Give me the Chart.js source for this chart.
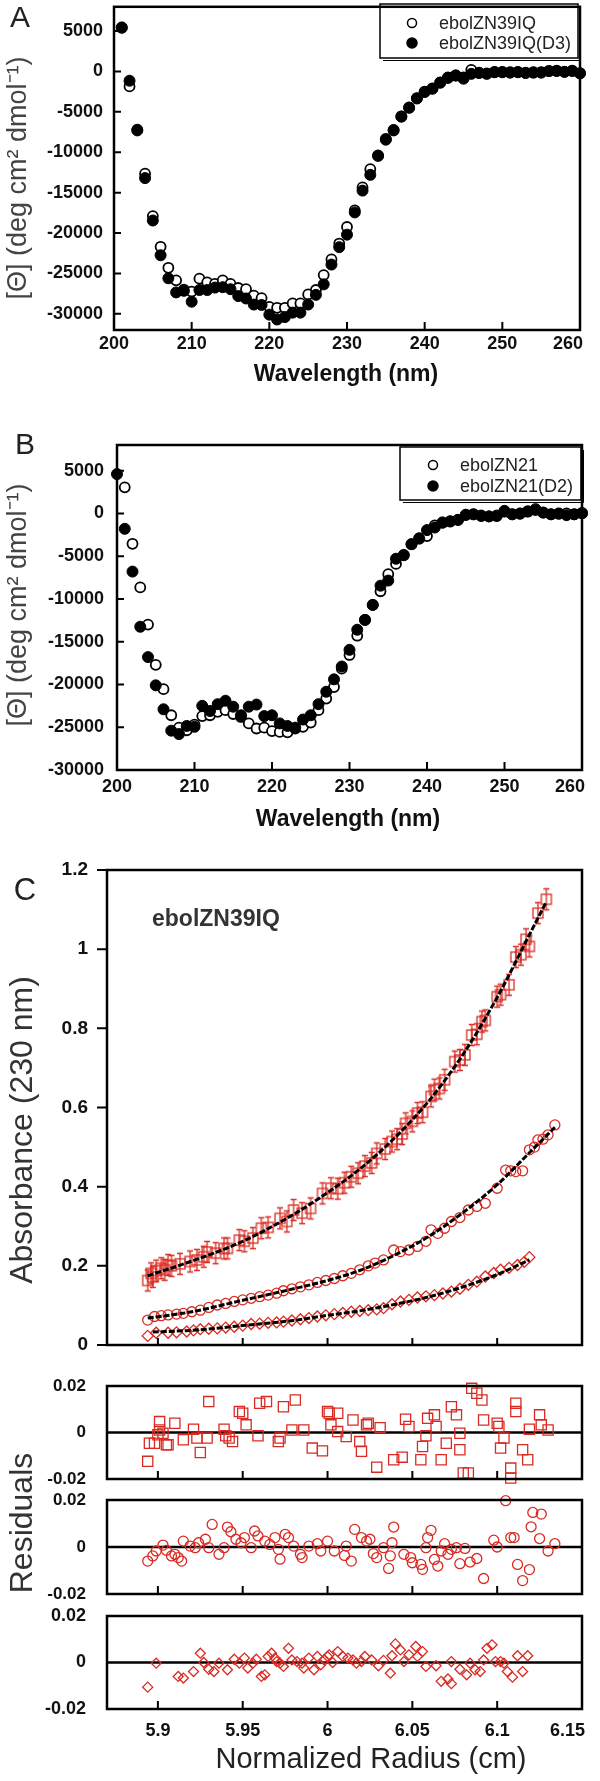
<!DOCTYPE html>
<html>
<head>
<meta charset="utf-8">
<script src="https://cdn.jsdelivr.net/npm/chart.js@4.4.0/dist/chart.umd.min.js"></script>
<style>
  body { margin: 0; background: #fff; }
  #page { position: relative; width: 600px; height: 1781px; overflow: hidden; font-family: "Liberation Sans", Arial, sans-serif; }
  canvas { position: absolute; left: 0; }
  .t { position: absolute; white-space: nowrap; line-height: 1; transform: translate(-50%, -50%); }
  .r { transform: translate(-50%, -50%) rotate(-90deg); }
</style>
</head>
<body>
<div id="page">
  <canvas id="cA" width="600" height="398" style="top:0px"></canvas>
  <canvas id="cB" width="600" height="432" style="top:398px"></canvas>
  <canvas id="cC" width="600" height="530" style="top:830px"></canvas>
  <canvas id="cR1" width="600" height="130" style="top:1360px"></canvas>
  <canvas id="cR2" width="600" height="115" style="top:1490px"></canvas>
  <canvas id="cR3" width="600" height="176" style="top:1605px"></canvas>

  <div class="t" style="left:20px;top:17px;font-size:30px;color:#222">A</div>
  <div class="t r" style="left:17px;top:178px;font-size:27px;color:#444">[Θ] (deg cm² dmol⁻¹)</div>
  <div class="t" style="left:346px;top:373px;font-size:23px;font-weight:bold;color:#111">Wavelength (nm)</div>

  <div class="t" style="left:25px;top:444px;font-size:30px;color:#222">B</div>
  <div class="t r" style="left:17px;top:605px;font-size:27px;color:#444">[Θ] (deg cm² dmol⁻¹)</div>
  <div class="t" style="left:348px;top:818px;font-size:23px;font-weight:bold;color:#111">Wavelength (nm)</div>

  <div class="t" style="left:25px;top:889px;font-size:31px;color:#222">C</div>
  <div class="t r" style="left:21px;top:1130px;font-size:32px;color:#333">Absorbance (230 nm)</div>
  <div class="t" style="left:152px;top:918px;font-size:23px;font-weight:bold;color:#333;transform:translate(0,-50%)">ebolZN39IQ</div>
  <div class="t r" style="left:21px;top:1523px;font-size:32px;color:#333">Residuals</div>
  <div class="t" style="left:371px;top:1758px;font-size:29px;color:#222">Normalized Radius (cm)</div>
</div>

<script>
// ---- panel A : CD spectra ebolZN39IQ ----
const waveA = [201,202,203,204,205,206,207,208,209,210,211,212,213,214,215,216,217,218,219,220,
  221,222,223,224,225,226,227,228,229,230,231,232,233,234,235,236,237,238,239,240,
  241,242,243,244,245,246,247,248,249,250,251,252,253,254,255,256,257,258,259,260];
const zn39 = [5400,-1850,-7200,-12650,-17900,-21700,-24300,-25850,-27000,-27250,-25650,-26100,-26300,-25850,-26300,-26800,-26950,-27750,-28050,-29150,
  -29250,-29250,-28700,-28700,-27600,-27050,-25200,-23250,-21300,-19250,-17200,-14350,-12100,-10400,-8350,-7250,-5550,-4450,-3300,-2500,
  -2100,-1350,-750,-500,-750,200,-150,-250,-50,-50,-100,-50,-150,-100,-100,50,100,-50,100,-200];
const zn39D3 = [5450,-1150,-7300,-13200,-18450,-22750,-25600,-27350,-27150,-28500,-27050,-27050,-26750,-26700,-26950,-27800,-28100,-28850,-28900,-30100,
  -30700,-30400,-29850,-29850,-28850,-27650,-26350,-23900,-21750,-20200,-17450,-14750,-12800,-10450,-8450,-7300,-5600,-4500,-3350,-2550,
  -2150,-1400,-800,-500,-900,-300,-200,-300,-100,-100,-150,-100,-200,-150,-150,50,50,-50,50,-250];

// ---- panel B : CD spectra ebolZN21 ----
const waveB = [200,201,202,203,204,205,206,207,208,209,210,211,212,213,214,215,216,217,218,219,220,
  221,222,223,224,225,226,227,228,229,230,231,232,233,234,235,236,237,238,239,240,
  241,242,243,244,245,246,247,248,249,250,251,252,253,254,255,256,257,258,259,260];
const zn21 = [null,3050,-3550,-8650,-13000,-17700,-20550,-23600,-25050,-25350,-24700,-23700,-23600,-23200,-23000,-23450,-23800,-24550,-25150,-25050,-25450,
  -25550,-25600,-25150,-24950,-24450,-23000,-21650,-20300,-18150,-16550,-14300,-12450,-10700,-9100,-7100,-5900,-4900,-3600,-2900,-2650,
  -1400,-1100,-900,-750,-200,-100,-300,-350,-300,200,-100,-50,200,400,100,-100,-50,0,-100,0];
const zn21D2 = [4600,-1800,-6800,-13250,-16800,-20100,-22900,-25400,-25800,-24850,-24950,-22500,-23100,-22300,-21900,-22600,-23600,-22600,-22350,-23700,-23600,
  -24550,-24850,-25050,-24100,-23600,-22300,-20850,-19400,-17900,-15950,-13600,-12450,-10700,-8450,-7850,-5300,-4850,-3600,-2950,-1950,
  -1650,-1050,-950,-750,-150,-100,-250,-350,-250,300,-100,0,250,500,100,-100,0,-200,-100,50];

const cdYTicks = [-30000,-25000,-20000,-15000,-10000,-5000,0,5000];
const cdXTicks = [200,210,220,230,240,250,260];

// ---- panel C : sedimentation equilibrium ----
const sqX = [5.894,5.896,5.897,5.899,5.902,5.904,5.906,5.908,5.913,5.919,5.923,5.927,5.929,5.934,5.939,5.941,5.948,5.951,5.956,5.961,5.965,
  5.972,5.976,5.980,5.985,5.990,5.997,6.002,6.006,6.010,6.014,6.018,6.022,6.026,6.029,6.034,6.038,6.041,6.044,6.046,6.050,
  6.053,6.056,6.061,6.063,6.066,6.069,6.075,6.078,6.081,6.085,6.088,6.091,6.093,6.100,6.102,6.107,6.111,6.114,6.117,6.119,6.124,6.129];
const sqY = [0.163,0.181,0.172,0.188,0.194,0.19,0.202,0.2,0.205,0.211,0.215,0.223,0.235,0.232,0.244,0.244,0.265,0.262,0.27,0.295,0.297,
  0.32,0.312,0.341,0.333,0.345,0.383,0.396,0.395,0.41,0.425,0.434,0.452,0.46,0.484,0.495,0.514,0.52,0.533,0.56,0.565,
  0.586,0.588,0.628,0.645,0.648,0.67,0.716,0.72,0.733,0.783,0.785,0.817,0.82,0.88,0.885,0.91,0.98,0.986,1.025,1.007,1.091,1.126];
const ciX = [5.894,5.898,5.902,5.906,5.911,5.915,5.920,5.925,5.930,5.935,5.940,5.945,5.950,5.955,5.960,5.965,5.970,5.974,5.979,5.984,5.989,
  5.994,5.999,6.004,6.009,6.014,6.019,6.024,6.028,6.033,6.039,6.043,6.048,6.053,6.058,6.061,6.065,6.069,6.073,6.078,6.083,
  6.088,6.093,6.100,6.105,6.108,6.111,6.115,6.119,6.122,6.124,6.127,6.130,6.134];
const ciY = [0.063,0.072,0.074,0.076,0.078,0.080,0.084,0.088,0.095,0.101,0.105,0.110,0.114,0.118,0.122,0.126,0.131,0.137,0.142,0.147,0.152,
  0.158,0.163,0.168,0.175,0.181,0.19,0.2,0.207,0.215,0.24,0.236,0.24,0.249,0.262,0.291,0.282,0.295,0.312,0.322,0.341,
  0.35,0.358,0.396,0.442,0.44,0.438,0.44,0.493,0.5,0.518,0.52,0.531,0.556];
const diX = [5.894,5.899,5.906,5.911,5.917,5.921,5.925,5.930,5.935,5.940,5.945,5.950,5.955,5.960,5.965,5.970,5.974,5.979,5.984,5.989,5.994,
  5.999,6.004,6.009,6.014,6.019,6.024,6.029,6.033,6.038,6.043,6.048,6.053,6.058,6.063,6.068,6.073,6.078,6.083,6.088,6.093,
  6.098,6.102,6.107,6.112,6.116,6.119];
const diY = [0.023,0.031,0.031,0.032,0.034,0.037,0.040,0.041,0.042,0.044,0.046,0.049,0.053,0.054,0.056,0.057,0.059,0.062,0.065,0.068,0.072,
  0.075,0.078,0.081,0.084,0.086,0.088,0.09,0.093,0.103,0.110,0.114,0.12,0.123,0.126,0.13,0.135,0.142,0.152,0.16,0.173,
  0.182,0.19,0.195,0.202,0.21,0.222];

// fitted curves
const fitSqX = [5.894,5.92,5.95,5.98,6.0,6.02,6.04,6.06,6.08,6.10,6.12,6.129];
const fitSqY = [0.175,0.212,0.262,0.330,0.385,0.448,0.525,0.618,0.735,0.878,1.045,1.12];
const fitCiX = [5.894,5.92,5.95,5.98,6.0,6.02,6.04,6.06,6.08,6.10,6.12,6.134];
const fitCiY = [0.068,0.084,0.113,0.142,0.163,0.19,0.228,0.275,0.335,0.405,0.49,0.55];
const fitDiX = [5.897,5.92,5.95,5.98,6.0,6.02,6.04,6.06,6.08,6.10,6.119];
const fitDiY = [0.033,0.037,0.049,0.062,0.075,0.087,0.103,0.122,0.147,0.178,0.215];

const absTicks = [0,0.2,0.4,0.6,0.8,1,1.2];
const radTicks = [5.9,5.95,6,6.05,6.1];
const radLabels = [5.9,5.95,6,6.05,6.1,6.15];
const resTicks = [-0.02,0,0.02];

// residuals
const rsqX = [5.894,5.895,5.898,5.901,5.901,5.900,5.903,5.905,5.906,5.910,5.915,5.921,5.925,5.923,5.929,5.930,5.939,5.940,5.944,5.942,
  5.948,5.950,5.952,5.959,5.960,5.964,5.971,5.972,5.974,5.981,5.979,5.986,5.991,5.997,6.000,6.001,6.006,6.002,6.006,6.011,
  6.015,6.019,6.020,6.023,6.024,6.031,6.029,6.039,6.044,6.046,6.048,6.055,6.056,6.058,6.059,6.063,6.064,6.067,6.070,6.073,
  6.076,6.078,6.078,6.080,6.083,6.085,6.088,6.091,6.092,6.100,6.101,6.102,6.104,6.108,6.108,6.111,6.111,6.115,6.118,6.119,
  6.125,6.126,6.130];
const rsqY = [-0.0124,-0.0046,-0.0046,0.0047,0.0011,-0.001,-0.0003,-0.0053,-0.0053,0.004,-0.0031,0.0014,-0.0086,-0.0024,-0.0024,0.0133,0.0014,-0.0014,-0.0039,-0.0024,
  0.009,0.0083,0.0033,-0.0014,0.0126,0.0133,-0.0039,-0.0024,0.0111,0.014,0.0011,0.0011,-0.0067,-0.0079,0.009,0.0083,0.0083,0.0033,0.0004,-0.0017,
  0.0054,-0.0039,-0.0081,0.0033,0.004,0.0021,-0.0149,-0.0117,-0.0106,0.0057,0.0026,-0.0117,-0.006,-0.0014,0.0061,0.0076,0.0026,-0.0117,-0.0046,0.0111,
  0.0076,-0.0074,-0.0003,-0.0174,-0.0174,0.019,0.0169,0.014,0.0054,0.004,0.0026,-0.0067,-0.0024,-0.0153,-0.0196,0.0126,0.009,-0.0074,-0.0117,0.0014,
  0.0076,0.0033,0.0011];
const rciX = [5.894,5.897,5.899,5.903,5.905,5.908,5.910,5.912,5.914,5.915,5.919,5.922,5.924,5.928,5.930,5.932,5.936,5.939,5.941,5.943,
  5.946,5.949,5.951,5.955,5.957,5.959,5.963,5.966,5.969,5.971,5.972,5.975,5.977,5.980,5.984,5.985,5.989,5.994,5.996,6.000,
  6.004,6.010,6.011,6.014,6.016,6.020,6.023,6.025,6.027,6.029,6.033,6.036,6.037,6.038,6.039,6.045,6.049,6.050,6.055,6.056,
  6.058,6.059,6.061,6.063,6.065,6.067,6.069,6.071,6.073,6.076,6.078,6.081,6.084,6.088,6.092,6.098,6.100,6.105,6.108,6.110,
  6.112,6.115,6.119,6.120,6.121,6.126,6.125,6.130,6.134];
const rciY = [-0.006,-0.0038,-0.0017,0.0008,-0.0014,-0.0038,-0.0031,-0.0045,-0.006,0.0025,0.0004,-0.0003,0.0018,0.0033,-0.0003,0.0096,-0.0031,-0.0003,0.0085,0.0065,
  0.0033,0.0018,0.004,-0.0003,0.0068,0.0047,0.0025,0.0011,0.004,-0.001,-0.0052,0.0054,0.004,0.0004,-0.0031,-0.0045,0.0004,0.0014,-0.0017,0.0025,
  -0.0017,-0.0036,0.0004,-0.006,0.0075,0.004,0.0025,0.0033,-0.0028,-0.0045,-0.0003,-0.0091,-0.0038,0.0018,0.0085,-0.0031,-0.0045,-0.0067,-0.0074,-0.0095,
  -0.0003,0.004,0.0071,-0.0053,-0.0081,-0.0017,0.0014,-0.0031,-0.001,-0.0003,-0.0071,-0.0006,-0.0064,-0.0049,-0.0134,0.0029,0,0.0197,0.004,0.004,
  -0.0074,-0.0143,-0.0096,0.0086,0.0147,0.014,0.0036,-0.0017,0.0014];
const rdiX = [5.894,5.899,5.912,5.915,5.921,5.925,5.927,5.930,5.933,5.936,5.941,5.945,5.948,5.951,5.953,5.956,5.958,5.961,5.963,5.965,
  5.967,5.969,5.970,5.972,5.974,5.977,5.979,5.982,5.985,5.986,5.989,5.992,5.994,5.996,5.998,6.000,6.001,6.003,6.006,6.009,
  6.012,6.015,6.017,6.020,6.022,6.026,6.030,6.033,6.037,6.038,6.040,6.043,6.045,6.048,6.052,6.053,6.056,6.058,6.064,6.067,
  6.071,6.073,6.073,6.078,6.082,6.084,6.087,6.090,6.092,6.094,6.097,6.099,6.102,6.104,6.106,6.109,6.112,6.115,6.118];
const rdiY = [-0.0106,-0.0003,-0.006,-0.0067,-0.0039,0.004,0,-0.0029,-0.0039,-0.0003,-0.0031,0.0014,-0.0003,0.0019,-0.0024,-0.0003,0.0014,-0.006,-0.0053,0.0026,
  0.004,0.0019,0.0004,-0.0003,-0.0017,0.0061,0.0011,0.0004,-0.0003,-0.0024,0.0019,-0.0031,0.0026,-0.001,0.0011,0.0026,0.0033,0,0.0047,0.0026,
  0.0019,0.0011,-0.0003,0.0004,0.0026,0.0011,-0.0014,0.0009,-0.0046,0.0029,0.008,0.0054,0.0004,0.0033,0.0069,0.0026,0.0047,-0.0017,-0.0014,-0.0081,
  -0.0071,-0.0091,0.0004,-0.0029,-0.0053,-0.0003,-0.0031,-0.0039,0.0011,0.0061,0.0076,0.0004,0.0004,-0.0003,-0.0039,-0.0063,0.0029,-0.0039,0.0029];

const RED = '#d92b23';
const FONT = '"Liberation Sans", Arial, sans-serif';

const pts = (xs, ys) => xs.map((v, i) => ({x: v, y: ys[i]})).filter(p => p.y !== null);

// square marker with its vertical error bar
const errSquare = () => {
  const c = document.createElement('canvas');
  c.width = 24; c.height = 28;
  const g = c.getContext('2d');
  g.strokeStyle = RED; g.lineWidth = 1.3;
  g.strokeRect(7, 9, 10, 10);
  g.beginPath();
  g.moveTo(12, 3); g.lineTo(12, 25);
  g.moveTo(9, 3.5); g.lineTo(15, 3.5);
  g.moveTo(9, 24.5); g.lineTo(15, 24.5);
  g.stroke();
  return c;
};

// frame, ticks, tick labels, zero line and legend box
const decor = {
  id: 'decor',
  beforeDatasetsDraw(chart, args, o) {
    if (!o.zero) return;
    const {ctx, chartArea: a} = chart;
    const py = chart.scales.y.getPixelForValue(0);
    ctx.save();
    ctx.strokeStyle = '#000'; ctx.lineWidth = 2.5;
    ctx.beginPath(); ctx.moveTo(a.left, py); ctx.lineTo(a.right, py); ctx.stroke();
    ctx.restore();
  },
  afterDatasetsDraw(chart, args, o) {
    const {ctx, chartArea: a, scales: {x, y}} = chart;
    ctx.save();
    ctx.strokeStyle = '#000'; ctx.lineWidth = 2.5;
    ctx.strokeRect(a.left, a.top, a.right - a.left, a.bottom - a.top);
    ctx.lineWidth = 2;
    ctx.beginPath();
    (o.xTicks || []).forEach(v => {
      const px = x.getPixelForValue(v);
      ctx.moveTo(px, a.bottom); ctx.lineTo(px, a.bottom - o.xTickLen);
    });
    (o.yTicks || []).forEach(v => {
      const py = y.getPixelForValue(v);
      ctx.moveTo(a.left, py); ctx.lineTo(a.left + o.yTickLen, py);
    });
    ctx.stroke();

    ctx.fillStyle = '#111';
    ctx.font = 'bold ' + o.fontSize + 'px ' + FONT;
    ctx.textBaseline = 'middle';
    ctx.textAlign = 'right';
    (o.yLabels || []).forEach(v => ctx.fillText(String(v), o.yLabelRight, y.getPixelForValue(v)));
    (o.xLabels || []).forEach(v => {
      const s = String(v);
      const w = ctx.measureText(s).width;
      let px = x.getPixelForValue(v) + w / 2;
      if (px > a.right + 3) px = a.right + 3;
      ctx.fillText(s, px, a.bottom + o.xLabelGap);
    });

    if (o.legend) {
      const L = o.legend;
      ctx.lineWidth = 1.5;
      ctx.strokeRect(L.box[0], L.box[1], L.box[2] - L.box[0], L.box[3] - L.box[1]);
      ctx.lineWidth = 1;
      ctx.beginPath();
      ctx.moveTo(L.box[2] + 2.5, L.box[1] + 3); ctx.lineTo(L.box[2] + 2.5, L.box[3] + 2.5); ctx.lineTo(L.box[0] + 3, L.box[3] + 2.5);
      ctx.stroke();
      ctx.font = '18px ' + FONT;
      ctx.textAlign = 'left';
      chart.data.datasets.forEach((d, i) => {
        const ly = L.rows[i];
        ctx.beginPath();
        ctx.arc(L.markX, ly, d.pointRadius - 0.5, 0, Math.PI * 2);
        ctx.fillStyle = d.backgroundColor; ctx.fill();
        ctx.strokeStyle = '#000'; ctx.lineWidth = 1.5; ctx.stroke();
        ctx.fillStyle = '#222';
        ctx.fillText(d.label, L.textX, ly + 1);
      });
    }
    ctx.restore();
  }
};

const panel = (id, datasets, pad, xr, yr, deco) => new Chart(document.getElementById(id), {
  type: 'scatter',
  data: {datasets},
  options: {
    responsive: false,
    animation: false,
    events: [],
    layout: {padding: pad},
    plugins: {legend: {display: false}, tooltip: {enabled: false}, decor: deco},
    scales: {
      x: {type: 'linear', display: false, min: xr[0], max: xr[1]},
      y: {type: 'linear', display: false, min: yr[0], max: yr[1]}
    }
  },
  plugins: [decor]
});

const openSet = (label, data) => ({label, data, pointRadius: 5, backgroundColor: '#fff', borderColor: '#000', borderWidth: 1.8, clip: false, order: 2});
const fillSet = (label, data) => ({label, data, pointRadius: 5.5, backgroundColor: '#000', borderColor: '#000', borderWidth: 1, clip: false, order: 1});

// A
panel('cA', [
  openSet('ebolZN39IQ', pts(waveA, zn39)),
  fillSet('ebolZN39IQ(D3)', pts(waveA, zn39D3))
], {left: 114, top: 3, right: 20, bottom: 68}, [200, 260], [-32000, 8000], {
  xTicks: cdXTicks.slice(1, -1), xTickLen: 8, yTicks: cdYTicks, yTickLen: 7,
  fontSize: 18, yLabels: cdYTicks, yLabelRight: 103, xLabels: cdXTicks, xLabelGap: 14,
  legend: {box: [380, 4, 578, 58], rows: [23, 43], markX: 412, textX: 439}
});

// B
panel('cB', [
  openSet('ebolZN21', pts(waveB, zn21)),
  fillSet('ebolZN21(D2)', pts(waveB, zn21D2))
], {left: 117, top: 47, right: 18, bottom: 60}, [200, 260], [-30000, 8000], {
  xTicks: cdXTicks.slice(1, -1), xTickLen: 8, yTicks: cdYTicks, yTickLen: 7,
  fontSize: 18, yLabels: cdYTicks, yLabelRight: 104, xLabels: cdXTicks, xLabelGap: 17,
  legend: {box: [400, 49, 581, 102], rows: [67, 88], markX: 433, textX: 460}
});

const fitSet = (xs, ys) => ({type: 'line', data: pts(xs, ys), showLine: true, pointRadius: 0, borderColor: '#000',
  borderWidth: 3, borderDash: [6, 2], cubicInterpolationMode: 'monotone', fill: false, order: 0});

// C main
panel('cC', [
  {data: pts(sqX, sqY), pointStyle: errSquare(), pointRadius: 6, order: 3},
  {data: pts(ciX, ciY), pointStyle: 'circle', pointRadius: 5, borderColor: RED, backgroundColor: 'rgba(0,0,0,0)', borderWidth: 1.3, order: 3},
  {data: pts(diX, diY), pointStyle: 'rectRot', pointRadius: 5.5, borderColor: RED, backgroundColor: 'rgba(0,0,0,0)', borderWidth: 1.3, order: 3},
  fitSet(fitSqX, fitSqY), fitSet(fitCiX, fitCiY), fitSet(fitDiX, fitDiY)
], {left: 107, top: 40, right: 18, bottom: 15}, [5.87, 6.15], [0, 1.2], {
  xTicks: radTicks, xTickLen: 7, yTicks: absTicks, yTickLen: -10,
  fontSize: 19, yLabels: absTicks, yLabelRight: 88
});

// residual panels
const resDeco = extra => Object.assign({xTicks: radTicks, xTickLen: 8, fontSize: 17, yLabels: resTicks, yLabelRight: 86, zero: true}, extra);

panel('cR1', [
  {data: pts(rsqX, rsqY), pointStyle: 'rect', pointRadius: 7.2, borderColor: RED, backgroundColor: 'rgba(0,0,0,0)', borderWidth: 1.3, clip: false}
], {left: 107, top: 26, right: 18, bottom: 11}, [5.87, 6.15], [-0.02, 0.02], resDeco({}));

panel('cR2', [
  {data: pts(rciX, rciY), pointStyle: 'circle', pointRadius: 5, borderColor: RED, backgroundColor: 'rgba(0,0,0,0)', borderWidth: 1.3, clip: false}
], {left: 107, top: 10, right: 18, bottom: 11}, [5.87, 6.15], [-0.02, 0.02], resDeco({}));

panel('cR3', [
  {data: pts(rdiX, rdiY), pointStyle: 'rectRot', pointRadius: 5, borderColor: RED, backgroundColor: 'rgba(0,0,0,0)', borderWidth: 1.3, clip: false}
], {left: 107, top: 11, right: 18, bottom: 72}, [5.87, 6.15], [-0.02, 0.02], resDeco({fontSize: 18, xLabels: radLabels, xLabelGap: 22}));
</script>
</body>
</html>
